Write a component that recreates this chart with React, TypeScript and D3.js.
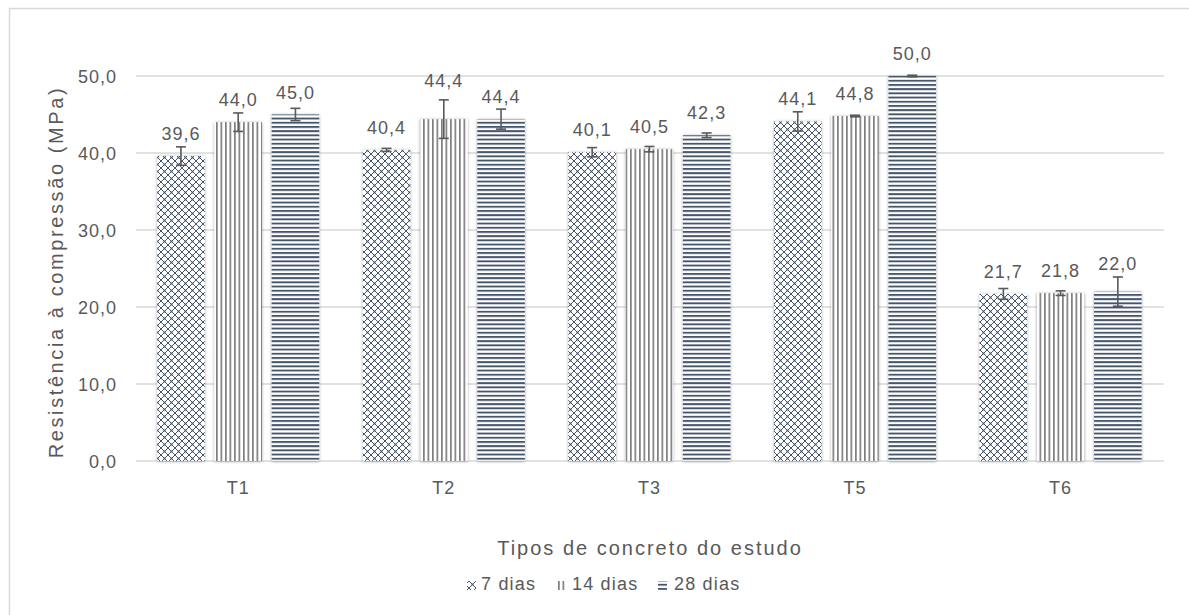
import React from "react";
import * as d3 from "d3";

const categories = ["T1", "T2", "T3", "T5", "T6"];
const seriesNames = ["7 dias", "14 dias", "28 dias"];
const values7 = [39.6, 40.4, 40.1, 44.1, 21.7];
const values14 = [44.0, 44.4, 40.5, 44.8, 21.8];
const values28 = [45.0, 44.4, 42.3, 50.0, 22.0];
const err7 = [1.2, 0.2, 0.6, 1.25, 0.7];
const err14 = [1.2, 2.5, 0.35, 0.1, 0.3];
const err28 = [0.8, 1.3, 0.3, 0.1, 1.9];
const yTicks = [0, 10, 20, 30, 40, 50];

const W = 1189;
const H = 615;
const textColor = "#595959";
const navy = "#44546A";
const grayLine = "#7F7F7F";

// fine label nudges (px) where the original labels were moved
const labelNudge: Record<string, number> = { "1-1": 16, "4-2": 6 };

export default function App() {
  const x = d3.scaleBand<string>().domain(categories).range([135.4, 1163.4]).paddingInner(0.212).paddingOuter(0.106);
  const xs = d3.scaleBand<string>().domain(seriesNames).range([0, x.bandwidth()]).paddingInner(0.17).paddingOuter(0);
  const y = d3.scaleLinear().domain([0, 50]).range([461, 76]);
  const series = [
    { name: seriesNames[0], values: values7, err: err7, fill: "url(#pat7)" },
    { name: seriesNames[1], values: values14, err: err14, fill: "url(#pat14)" },
    { name: seriesNames[2], values: values28, err: err28, fill: "url(#pat28)" },
  ];
  const fmt = (v: number) => v.toFixed(1).replace(".", ",");
  const font = "'Liberation Sans', Arial, sans-serif";

  const legendItems = [
    { name: seriesNames[0], fill: "url(#pat7)", iconX: 467, textX: 481 },
    { name: seriesNames[1], fill: "url(#pat14)", iconX: 557, textX: 572 },
    { name: seriesNames[2], fill: "url(#pat28)", iconX: 658, textX: 674 },
  ];

  return (
    <svg width={W} height={H} style={{ position: "absolute", left: 0, top: 0, display: "block" }} fontFamily={font}>
      <defs>
        <pattern id="pat7" patternUnits="userSpaceOnUse" width={7} height={7}>
          <rect width={7} height={7} fill="#fff" />
          <path d="M0,0 L7,7 M7,0 L0,7" stroke={navy} strokeWidth={1} />
          <path d="M-1,6 L1,8 M6,-1 L8,1 M-1,1 L1,-1 M6,8 L8,6" stroke={navy} strokeWidth={1} />
          <circle cx={3.5} cy={3.5} r={1} fill={navy} />
        </pattern>
        <pattern id="pat14" patternUnits="userSpaceOnUse" width={4.5} height={4}>
          <rect width={4.5} height={4} fill="#fff" />
          <rect x={0} width={1.7} height={4} fill={grayLine} />
        </pattern>
        <pattern id="pat28" patternUnits="userSpaceOnUse" width={4} height={4.2}>
          <rect width={4} height={4.2} fill="#fff" />
          <rect y={0} width={4} height={1.9} fill={navy} />
        </pattern>
        <filter id="shadow" x="-20%" y="-20%" width="140%" height="140%">
          <feDropShadow dx={0} dy={0.5} stdDeviation={1.6} floodColor="#000" floodOpacity={0.35} />
        </filter>
      </defs>
      <rect x={0} y={0} width={W} height={H} fill="#fff" />
      <rect x={9.5} y={8.5} width={W + 20} height={H + 20} fill="none" stroke="#D9D9D9" strokeWidth={1.5} />

      {yTicks.map((t) => (
        <g key={t}>
          <line x1={136} x2={1164} y1={y(t)} y2={y(t)} stroke="#D9D9D9" strokeWidth={1.5} />
          <text x={117} y={y(t) + 7} textAnchor="end" fontSize={18} fill={textColor} letterSpacing={1}>
            {fmt(t)}
          </text>
        </g>
      ))}

      {categories.map((c, ci) => (
        <g key={c}>
          {series.map((s, si) => {
            const bx = (x(c) ?? 0) + (xs(s.name) ?? 0);
            const bw = xs.bandwidth();
            const v = s.values[ci];
            const e = s.err[ci];
            const cx = bx + bw / 2;
            const nudge = labelNudge[`${ci}-${si}`] ?? 0;
            return (
              <g key={s.name}>
                <rect x={bx} y={y(v)} width={bw} height={y(0) - y(v)} fill={s.fill} filter="url(#shadow)" />
                <line x1={cx} x2={cx} y1={y(v + e)} y2={y(v - e)} stroke="#595959" strokeWidth={1.6} />
                <line x1={cx - 5} x2={cx + 5} y1={y(v + e)} y2={y(v + e)} stroke="#595959" strokeWidth={1.6} />
                <line x1={cx - 5} x2={cx + 5} y1={y(v - e)} y2={y(v - e)} stroke="#595959" strokeWidth={1.6} />
                <text x={cx} y={y(v) - 16 - nudge} textAnchor="middle" fontSize={18} fill={textColor} letterSpacing={1}>
                  {fmt(v)}
                </text>
              </g>
            );
          })}
          <text x={(x(c) ?? 0) + x.bandwidth() / 2} y={494} textAnchor="middle" fontSize={18} fill={textColor} letterSpacing={1}>
            {c}
          </text>
        </g>
      ))}

      <text x={650} y={555} textAnchor="middle" fontSize={20} fill={textColor} letterSpacing={2}>
        Tipos de concreto do estudo
      </text>
      <text transform="translate(63,272) rotate(-90)" textAnchor="middle" fontSize={20} fill={textColor} letterSpacing={2.6}>
        Resistência à compressão (MPa)
      </text>

      {legendItems.map((l) => (
        <g key={l.name}>
          <rect x={l.iconX} y={581} width={9} height={9} fill={l.fill} />
          <text x={l.textX} y={590} fontSize={18} fill={textColor} letterSpacing={1.2}>
            {l.name}
          </text>
        </g>
      ))}
    </svg>
  );
}
